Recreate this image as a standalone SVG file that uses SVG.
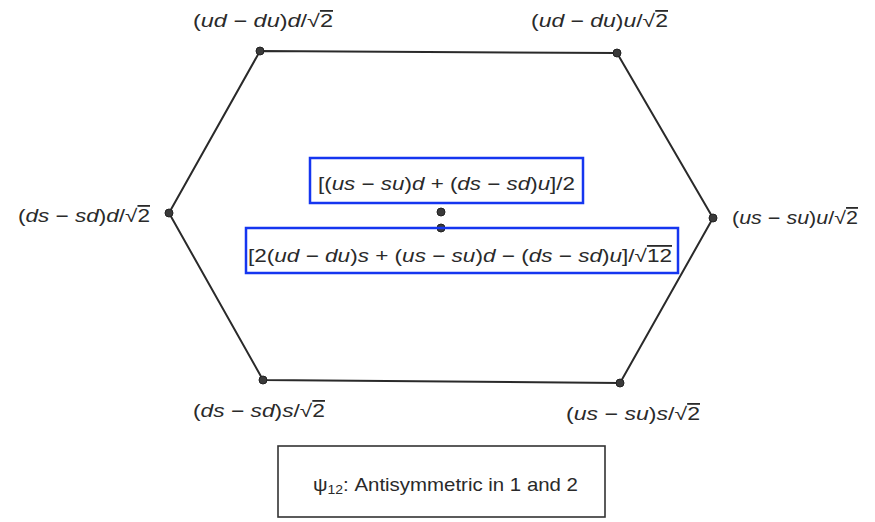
<svg xmlns="http://www.w3.org/2000/svg" width="875" height="522" viewBox="0 0 875 522">
<style>
.lbl{font-family:"Liberation Sans",Arial,sans-serif;font-size:18px;fill:#2a2a2a}
.cp{font-size:19px}
.v{font-style:italic}
.ov{text-decoration:overline}
.edge{fill:none;stroke:#2a2a2a;stroke-width:2}
.dot{fill:#3a3a3a;stroke:#222;stroke-width:1}
.hl{fill:none;stroke:#1536f0;stroke-width:2.5}
.cap{fill:none;stroke:#333;stroke-width:1.6}
</style>
<rect width="875" height="522" fill="#ffffff"/>
<g id="connectors">
<polygon class="edge" points="260,51 617,53 713,218 620,383 263,380 169,213"/>
</g>
<g id="n-ud-du-d"><circle class="dot" cx="260" cy="51" r="4"/>
<text class="lbl" x="193" y="27" textLength="140" lengthAdjust="spacingAndGlyphs">(<tspan class="v">ud</tspan> − <tspan class="v">du</tspan>)<tspan class="v">d</tspan>/√<tspan class="ov">2</tspan></text></g>
<g id="n-ud-du-u"><circle class="dot" cx="617" cy="53" r="4"/>
<text class="lbl" x="531" y="27" textLength="137" lengthAdjust="spacingAndGlyphs">(<tspan class="v">ud</tspan> − <tspan class="v">du</tspan>)<tspan class="v">u</tspan>/√<tspan class="ov">2</tspan></text></g>
<g id="n-ds-sd-d"><circle class="dot" cx="169" cy="213" r="4"/>
<text class="lbl" x="18" y="222" textLength="132" lengthAdjust="spacingAndGlyphs">(<tspan class="v">ds</tspan> − <tspan class="v">sd</tspan>)<tspan class="v">d</tspan>/√<tspan class="ov">2</tspan></text></g>
<g id="n-us-su-u"><circle class="dot" cx="713" cy="218" r="4"/>
<text class="lbl" x="732" y="224" textLength="126" lengthAdjust="spacingAndGlyphs">(<tspan class="v">us</tspan> − <tspan class="v">su</tspan>)<tspan class="v">u</tspan>/√<tspan class="ov">2</tspan></text></g>
<g id="n-ds-sd-s"><circle class="dot" cx="263" cy="380" r="4"/>
<text class="lbl" x="193" y="417" textLength="132" lengthAdjust="spacingAndGlyphs">(<tspan class="v">ds</tspan> − <tspan class="v">sd</tspan>)<tspan class="v">s</tspan>/√<tspan class="ov">2</tspan></text></g>
<g id="n-us-su-s"><circle class="dot" cx="620" cy="383" r="4"/>
<text class="lbl" x="566" y="420" textLength="134" lengthAdjust="spacingAndGlyphs">(<tspan class="v">us</tspan> − <tspan class="v">su</tspan>)<tspan class="v">s</tspan>/√<tspan class="ov">2</tspan></text></g>
<g id="n-center-upper"><circle class="dot" cx="441" cy="212" r="4"/>
<rect class="hl" x="310" y="158" width="273" height="45"/>
<text class="lbl" x="318" y="190" textLength="257" lengthAdjust="spacingAndGlyphs">[(<tspan class="v">us</tspan> − <tspan class="v">su</tspan>)<tspan class="v">d</tspan> + (<tspan class="v">ds</tspan> − <tspan class="v">sd</tspan>)<tspan class="v">u</tspan>]/2</text></g>
<g id="n-center-lower"><circle class="dot" cx="441" cy="228" r="4"/>
<rect class="hl" x="246" y="228" width="432" height="45"/>
<text class="lbl" x="248" y="262" textLength="424" lengthAdjust="spacingAndGlyphs">[2(<tspan class="v">ud</tspan> − <tspan class="v">du</tspan>)<tspan class="v">s</tspan> + (<tspan class="v">us</tspan> − <tspan class="v">su</tspan>)<tspan class="v">d</tspan> − (<tspan class="v">ds</tspan> − <tspan class="v">sd</tspan>)<tspan class="v">u</tspan>]/√<tspan class="ov">12</tspan></text></g>
<g id="caption">
<rect class="cap" x="278" y="446" width="327" height="71"/>
<text class="lbl cp" x="313" y="491" textLength="265" lengthAdjust="spacingAndGlyphs">ψ<tspan font-size="13" dy="3">12</tspan><tspan dy="-3">: Antisymmetric in 1 and 2</tspan></text>
</g>
</svg>
